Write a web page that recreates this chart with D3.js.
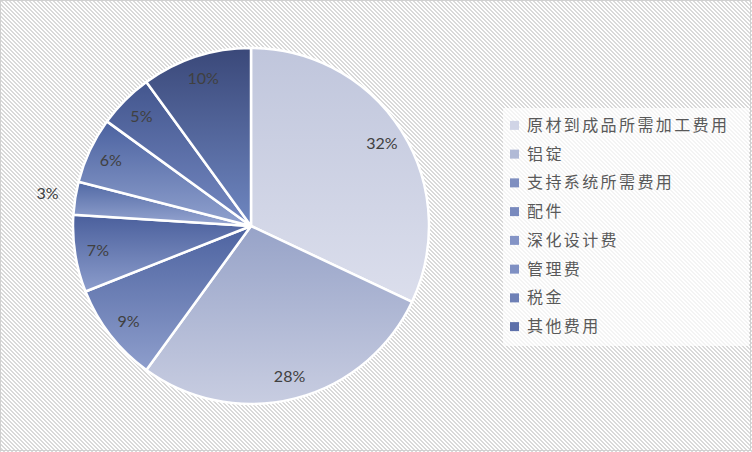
<!DOCTYPE html>
<html>
<head>
<meta charset="utf-8">
<script src="https://cdn.jsdelivr.net/npm/d3@7"></script>
<style>
  body { margin: 0; background: #fff; }
  svg { display: block; }
</style>
</head>
<body>
<div id="chart"></div>
<script>
// data
var categories = ["原材到成品所需加工费用", "铝锭", "支持系统所需费用", "配件", "深化设计费", "管理费", "税金", "其他费用"];
var shares = [32, 28, 9, 7, 3, 6, 5, 10];
// top / bottom colours of each slice gradient, and legend swatch colour
var topColors = ["#c0c6dc", "#97a3c8", "#4d63a0", "#4a5f9c", "#5068a4", "#4b62a0", "#43568e", "#3a4879"];
var bottomColors = ["#dbdeec", "#c8cde1", "#8e9ecc", "#8c9dcc", "#97a6d1", "#90a1ce", "#7589c2", "#6f87c1"];
var swatchColors = ["#d0d4e6", "#b1bad6", "#7f8fc0", "#7889bd", "#8494c6", "#7f90c3", "#6e80b6", "#5d70aa"];

var width = 752, height = 452;
var cx = 251, cy = 226, radius = 178;

var svg = d3.select("#chart").append("svg")
  .attr("width", width)
  .attr("height", height);

var defs = svg.append("defs");

// pixel-staircase diagonal hatch, 4px tile
var hatch = defs.append("pattern")
  .attr("id", "hatch")
  .attr("patternUnits", "userSpaceOnUse")
  .attr("width", 4)
  .attr("height", 4);
hatch.append("rect").attr("width", 4).attr("height", 4).attr("fill", "#fff");
d3.range(4).forEach(row => {
  [0, 1].forEach(k => {
    hatch.append("rect")
      .attr("x", (row + k) % 4).attr("y", row)
      .attr("width", 1).attr("height", 1)
      .attr("fill", "#d9d9d9")
      .attr("shape-rendering", "crispEdges");
  });
});

svg.append("rect")
  .attr("x", 0).attr("y", 0)
  .attr("width", width).attr("height", height)
  .attr("fill", "url(#hatch)");
svg.append("rect")
  .attr("x", 0.5).attr("y", 0.5)
  .attr("width", width - 2).attr("height", height - 2)
  .attr("fill", "none")
  .attr("stroke", "#d0d0d0");

var pie = d3.pie().sort(null).value(d => d);
var arcs = pie(shares);
var arc = d3.arc().innerRadius(0).outerRadius(radius);

// one vertical gradient per slice, spanning its own box
arcs.forEach((a, i) => {
  var g = defs.append("linearGradient")
    .attr("id", "grad" + i)
    .attr("x1", 0).attr("y1", 0).attr("x2", 0).attr("y2", 1);
  g.append("stop").attr("offset", "0%").attr("stop-color", topColors[i]);
  g.append("stop").attr("offset", "100%").attr("stop-color", bottomColors[i]);
});

var pieG = svg.append("g").attr("transform", "translate(" + cx + "," + cy + ")");

pieG.selectAll("path")
  .data(arcs)
  .enter().append("path")
  .attr("d", arc)
  .attr("fill", (d, i) => "url(#grad" + i + ")")
  .attr("stroke", "#fff")
  .attr("stroke-width", 2.5)
  .attr("stroke-linejoin", "round");

var labelArc = d3.arc().innerRadius(155).outerRadius(155);
var outerLabelArc = d3.arc().innerRadius(206).outerRadius(206);

pieG.selectAll("text")
  .data(arcs)
  .enter().append("text")
  .attr("transform", d => {
    var c = (d.data < 4 ? outerLabelArc : labelArc).centroid(d);
    return "translate(" + c[0] + "," + c[1] + ")";
  })
  .attr("text-anchor", "middle")
  .attr("dy", "0.35em")
  .attr("font-family", "Lato, 'Open Sans', sans-serif")
  .attr("font-size", 16)
  .attr("fill", "#404040")
  .text(d => d.data + "%");

// legend
var legend = svg.append("g").attr("transform", "translate(503,108)");
legend.append("rect")
  .attr("width", 246).attr("height", 238)
  .attr("fill", "#fff")
  .attr("fill-opacity", 0.7);

var rowY = d3.scaleBand().domain(d3.range(categories.length)).range([3, 233]);

var rows = legend.selectAll("g.row")
  .data(categories)
  .enter().append("g")
  .attr("class", "row")
  .attr("transform", (d, i) => "translate(0," + (rowY(i) + rowY.bandwidth() / 2) + ")");

rows.append("rect")
  .attr("x", 7).attr("y", -4.5)
  .attr("width", 9).attr("height", 9)
  .attr("fill", (d, i) => swatchColors[i]);

rows.append("text")
  .attr("x", 24)
  .attr("dy", "0.35em")
  .attr("font-family", "'Noto Sans CJK SC', sans-serif")
  .attr("font-size", 16)
  .attr("letter-spacing", 2.4)
  .attr("fill", "#595959")
  .text(d => d);
</script>
</body>
</html>
